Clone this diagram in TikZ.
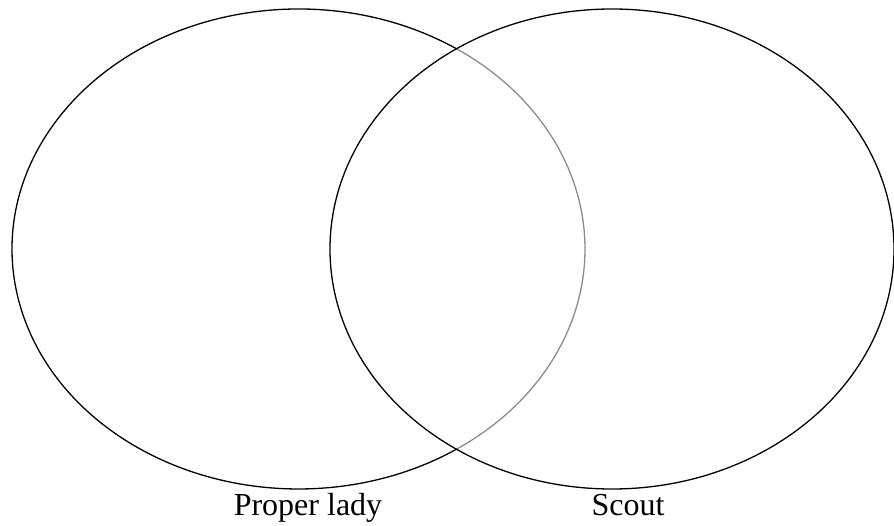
\documentclass[tikz,border=0pt]{standalone}
\usepackage{fontspec}
\setmainfont{Liberation Serif}

\begin{document}
\begin{tikzpicture}[
    x=1pt, y=1pt,
    setline/.style={line width=1.3pt, black},
    innerline/.style={line width=1.3pt, black!45},
    every node/.style={font=\fontsize{32}{36}\selectfont, inner sep=0pt, anchor=base}
  ]
    \useasboundingbox (0,0) rectangle (894,525);
    % left set, split where it enters the right set
    \draw[setline] (298.5,276) ++(56.5:286.5 and 240) arc[start angle=56.5, end angle=303.5, x radius=286.5, y radius=240];
    \draw[innerline] (298.5,276) ++(-56.5:286.5 and 240) arc[start angle=-56.5, end angle=56.5, x radius=286.5, y radius=240];
    % right set
    \draw[setline] (612,276) ellipse[x radius=282, y radius=240];
    \node (lady) at (308,10) {Proper lady};
    \node (scout) at (628,10) {Scout};
  \end{tikzpicture}
\end{document}
